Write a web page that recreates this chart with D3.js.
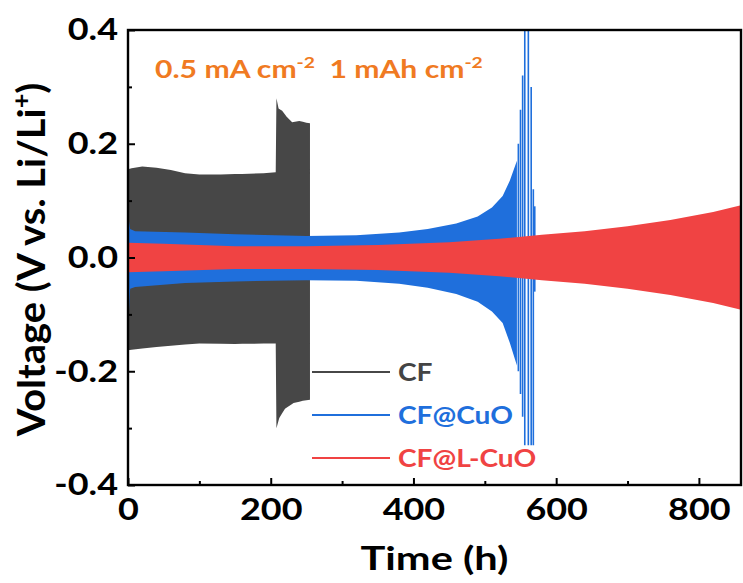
<!DOCTYPE html>
<html>
<head>
<meta charset="utf-8">
<script src="https://cdn.jsdelivr.net/npm/d3@7"></script>
<style>
  html, body { margin: 0; padding: 0; background: #fff; }
  svg { display: block; }
  text { font-family: Lato, "Open Sans", sans-serif; font-weight: 700; }
</style>
</head>
<body>
<svg id="chart" width="743" height="583"></svg>
<script>
// Voltage envelopes (upper / lower) of the symmetric Li plating/stripping cycles, [time h, V]
const cfTop = [[0,0.155],[5,0.157],[20,0.160],[40,0.158],[60,0.154],[80,0.148],[100,0.146],[130,0.146],[160,0.147],[190,0.148],[207,0.150],
               [208,0.280],[211,0.262],[216,0.258],[222,0.248],[230,0.238],[240,0.240],[250,0.237],[255,0.236]];
const cfBottom = [[0,-0.163],[20,-0.160],[60,-0.155],[100,-0.151],[150,-0.152],[207,-0.151],
                  [208,-0.300],[212,-0.282],[220,-0.266],[232,-0.256],[245,-0.252],[255,-0.250]];

const cuoTop = [[0,0.075],[3,0.050],[10,0.046],[80,0.044],[150,0.041],[250,0.038],[320,0.039],[380,0.044],[420,0.050],
                [460,0.060],[490,0.072],[510,0.088],[525,0.108],[535,0.135],[545,0.170]];
const cuoBottom = [[0,-0.127],[3,-0.055],[10,-0.052],[80,-0.045],[150,-0.042],[250,-0.040],[320,-0.041],[380,-0.046],[420,-0.053],
                   [460,-0.064],[490,-0.078],[510,-0.095],[525,-0.115],[535,-0.150],[545,-0.190]];
// Final CF@CuO cycles before short-circuit: [time h, upper V, lower V]
const cuoSpikes = [[547,0.20,-0.20],[550,0.26,-0.24],[553,0.32,-0.28],[556,0.40,-0.33],[561,0.40,-0.33],[565,0.30,-0.33],[568,0.12,-0.33],[570,0.09,-0.06]];

const lcuoTop = [[0,0.026],[50,0.024],[150,0.020],[250,0.020],[350,0.022],[450,0.027],[520,0.033],[580,0.040],[640,0.046],
                 [700,0.055],[760,0.066],[820,0.080],[860,0.092]];
const lcuoBottom = [[0,-0.026],[50,-0.024],[150,-0.020],[250,-0.020],[350,-0.022],[450,-0.027],[520,-0.033],[580,-0.040],[640,-0.046],
                    [700,-0.055],[760,-0.066],[820,-0.080],[860,-0.092]];

const xTicks = [0, 200, 400, 600, 800];
const xMinor = [100, 300, 500, 700];
const yTicks = [-0.4, -0.2, 0.0, 0.2, 0.4];
const yMinor = [-0.3, -0.1, 0.1, 0.3];

const seriesNames = ["CF", "CF@CuO", "CF@L-CuO"];
const seriesColors = ["#474747", "#1f6fdc", "#f04343"];

const W = 743, H = 583;
const margin = {left: 128, right: 2, top: 30, bottom: 98};
const svg = d3.select("#chart");

const x = d3.scaleLinear().domain([0, 859]).range([margin.left, W - margin.right]);
const y = d3.scaleLinear().domain([-0.4, 0.4]).range([H - margin.bottom, margin.top]);

// Wide lettering: stretch a text element horizontally about a fixed x
function stretchX(sel, ax, factor) {
  sel.attr("transform", `translate(${ax},0) scale(${factor},1) translate(${-ax},0)`);
}
function fitWidth(sel, ax, width) {
  const w = sel.node().getBBox().width;
  stretchX(sel, ax, width / w);
}

svg.append("defs").append("clipPath").attr("id", "plotclip")
  .append("rect").attr("x", x(0)).attr("y", y(0.4)).attr("width", x(859) - x(0)).attr("height", y(-0.4) - y(0.4));

const plot = svg.append("g").attr("clip-path", "url(#plotclip)");

function band(top, bottom) {
  // merge both envelopes on a shared time grid for d3.area
  const times = Array.from(new Set(top.map(d => d[0]).concat(bottom.map(d => d[0])))).sort((a, b) => a - b);
  const at = (arr, t) => {
    for (let i = 0; i < arr.length - 1; i++) {
      if (t >= arr[i][0] && t <= arr[i + 1][0]) {
        const f = (t - arr[i][0]) / (arr[i + 1][0] - arr[i][0]);
        return arr[i][1] + f * (arr[i + 1][1] - arr[i][1]);
      }
    }
    return t <= arr[0][0] ? arr[0][1] : arr[arr.length - 1][1];
  };
  return times.map(t => ({t, hi: at(top, t), lo: at(bottom, t)}));
}

const area = d3.area().x(d => x(d.t)).y0(d => y(d.lo)).y1(d => y(d.hi)).curve(d3.curveLinear);

plot.append("path").datum(band(cfTop, cfBottom)).attr("d", area).attr("fill", seriesColors[0]);
plot.append("path").datum(band(cuoTop, cuoBottom)).attr("d", area).attr("fill", seriesColors[1]);
plot.selectAll("line.spike").data(cuoSpikes).enter().append("line")
  .attr("class", "spike")
  .attr("x1", d => x(d[0])).attr("x2", d => x(d[0]))
  .attr("y1", d => y(d[1])).attr("y2", d => y(d[2]))
  .attr("stroke", seriesColors[1]).attr("stroke-width", 1.6);
plot.append("path").datum(band(lcuoTop, lcuoBottom)).attr("d", area).attr("fill", seriesColors[2]);

// Axes: inward ticks, frame around the plot
const xAxis = d3.axisBottom(x).tickValues(xTicks).tickSize(-7).tickPadding(13).tickFormat(d3.format("d"));
const xAxisMinor = d3.axisBottom(x).tickValues(xMinor).tickSize(-4).tickFormat("");
const yAxis = d3.axisLeft(y).tickValues(yTicks).tickSize(-7).tickPadding(10)
  .tickFormat(d => (d < 0 ? "-" : "") + Math.abs(d).toFixed(1));
const yAxisMinor = d3.axisLeft(y).tickValues(yMinor).tickSize(-4).tickFormat("");

function styleAxis(g) {
  g.select(".domain").remove();
  g.selectAll(".tick line").attr("stroke", "#000").attr("stroke-width", 2);
  g.selectAll(".tick text").attr("fill", "#000").style("font-size", "31px");
}

const gx = svg.append("g").attr("transform", `translate(0,${y(-0.4)})`).call(xAxis).call(styleAxis);
svg.append("g").attr("transform", `translate(0,${y(-0.4)})`).call(xAxisMinor).call(styleAxis);
const gy = svg.append("g").attr("transform", `translate(${x(0)},0)`).call(yAxis).call(styleAxis);
svg.append("g").attr("transform", `translate(${x(0)},0)`).call(yAxisMinor).call(styleAxis);

gx.selectAll(".tick text").each(function () { stretchX(d3.select(this), 0, 1.16); });
gy.selectAll(".tick text").each(function () { stretchX(d3.select(this), -10, 1.16); });

svg.append("rect")
  .attr("x", x(0)).attr("y", y(0.4))
  .attr("width", x(859) - x(0)).attr("height", y(-0.4) - y(0.4))
  .attr("fill", "none").attr("stroke", "#000").attr("stroke-width", 2.4);

// Axis titles
const xTitle = svg.append("text")
  .attr("x", (x(0) + x(859)) / 2).attr("y", 570)
  .attr("text-anchor", "middle").style("font-size", "33px").attr("fill", "#000")
  .text("Time (h)");
fitWidth(xTitle, (x(0) + x(859)) / 2, 148);

const yTitleG = svg.append("g").attr("transform", `translate(45,${(y(0.4) + y(-0.4)) / 2 + 2}) rotate(-90)`);
const yTitle = yTitleG.append("text").attr("x", 0).attr("y", 0)
  .attr("text-anchor", "middle").style("font-size", "33px").attr("fill", "#000");
yTitle.append("tspan").text("Voltage (V vs. Li/Li");
yTitle.append("tspan").attr("dy", -13).style("font-size", "21px").text("+");
yTitle.append("tspan").attr("dy", 13).text(")");
{
  const bb = yTitle.node().getBBox();
  yTitle.attr("transform", `scale(${355 / bb.width},1.18)`);
}

// Current density / capacity annotation
const note = svg.append("text").attr("x", 155).attr("y", 78).attr("fill", "#f07a22").style("font-size", "25px");
note.append("tspan").text("0.5 mA cm");
note.append("tspan").attr("dy", -10).style("font-size", "16px").text("-2");
note.append("tspan").attr("dy", 10).attr("dx", 12).text("1 mAh cm");
note.append("tspan").attr("dy", -10).style("font-size", "16px").text("-2");
fitWidth(note, 155, 328);

// Legend
const legend = svg.append("g");
const legendY = [372, 415, 458];
let legendStretch = 1;
seriesNames.forEach((name, i) => {
  legend.append("line")
    .attr("x1", 312).attr("x2", 390).attr("y1", legendY[i]).attr("y2", legendY[i])
    .attr("stroke", seriesColors[i]).attr("stroke-width", 2);
  const t = legend.append("text")
    .attr("x", 398).attr("y", legendY[i] + 9)
    .attr("fill", i === 0 ? "#444" : seriesColors[i]).style("font-size", "24px")
    .text(name);
  if (i === 1) legendStretch = 115 / t.node().getBBox().width;
});
legend.selectAll("text").each(function () { stretchX(d3.select(this), 398, legendStretch); });
</script>
</body>
</html>
